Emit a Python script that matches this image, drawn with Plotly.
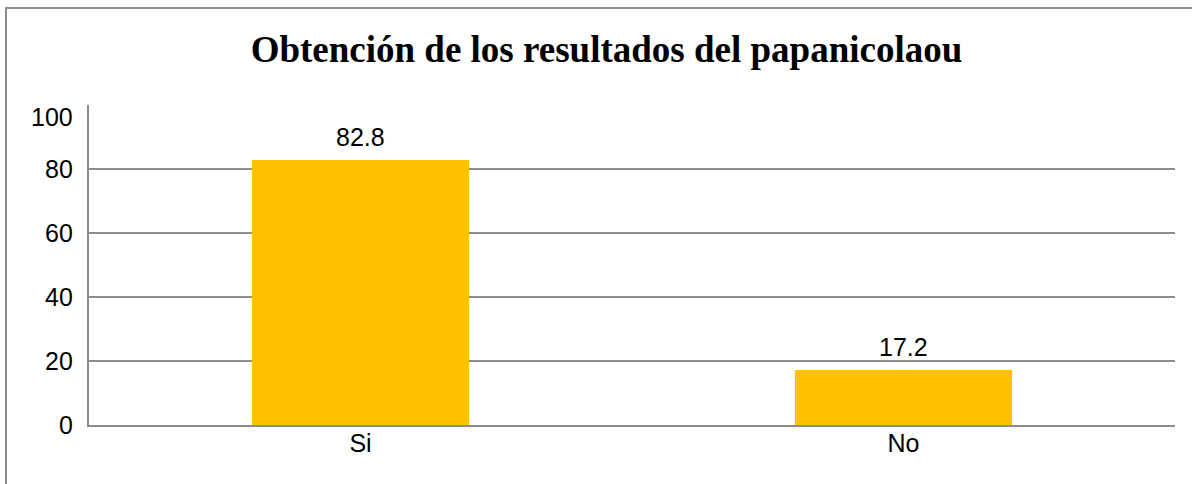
import plotly.graph_objects as go

categories = ["Si", "No"]
values = [82.8, 17.2]
y_ticks = [0, 20, 40, 60, 80, 100]
y_tick_labels = ["0", "20", "40", "60", "80", "100"]
title_text = "Obtención de los resultados del papanicolaou"

BAR_COLOR = "#FFC000"
GRID_COLOR = "#8C8C8C"
SANS = "Liberation Sans, Arial, sans-serif"
SERIF = "Liberation Serif, Times New Roman, serif"

fig = go.Figure()
fig.add_trace(go.Bar(
    x=categories, y=values, width=0.4,
    marker=dict(color=BAR_COLOR, line=dict(width=0)),
    hoverinfo="skip",
))

annotations = []
# value labels
for c, v in zip(categories, values):
    annotations.append(dict(
        x=c, y=v, xref="x", yref="y", text=f"{v}", showarrow=False,
        yanchor="bottom", yshift=7,
        font=dict(family=SANS, size=25, color="#000000"),
    ))
# y tick labels (top label sits lower, as in the reference)
for t, lab in zip(y_ticks, y_tick_labels):
    annotations.append(dict(
        x=0, y=t, xref="paper", yref="y", text=lab, showarrow=False,
        xanchor="right", yanchor="middle", xshift=-14,
        yshift=(-12 if t == max(y_ticks) else 0),
        font=dict(family=SANS, size=25, color="#000000"),
    ))

fig.update_layout(
    width=1192, height=484,
    margin=dict(l=89, r=17, t=105, b=59),
    paper_bgcolor="white", plot_bgcolor="white",
    showlegend=False,
    bargap=0.6,
    title=dict(
        text=f"<b>{title_text}</b>",
        x=0.4765, xref="paper", xanchor="center",
        y=1 - 49 / 484, yref="container", yanchor="middle",
        font=dict(family=SERIF, size=37, color="#000000"),
    ),
    annotations=annotations,
    shapes=[dict(
        type="rect", xref="paper", yref="paper",
        x0=(6 - 89) / 1086, x1=1.1, y0=-0.5, y1=1 + (105 - 8) / 320,
        line=dict(color=GRID_COLOR, width=2), fillcolor="rgba(0,0,0,0)",
        layer="below",
    )],
)
fig.update_xaxes(
    showline=True, linecolor=GRID_COLOR, linewidth=2,
    showgrid=False, ticks="outside", ticklen=0, ticklabelstandoff=-5,
    tickfont=dict(family=SANS, size=25, color="#000000"),
    fixedrange=True,
)
fig.update_yaxes(
    range=[0, 100], tickvals=y_ticks, showticklabels=False,
    showline=True, linecolor=GRID_COLOR, linewidth=2,
    showgrid=True, gridcolor=GRID_COLOR, gridwidth=2,
    zeroline=False, ticks="", fixedrange=True,
)

fig.write_html(
    "out.html",
    config={"displayModeBar": False},
    post_script="document.body.style.margin='0';document.body.style.overflow='hidden';",
)
